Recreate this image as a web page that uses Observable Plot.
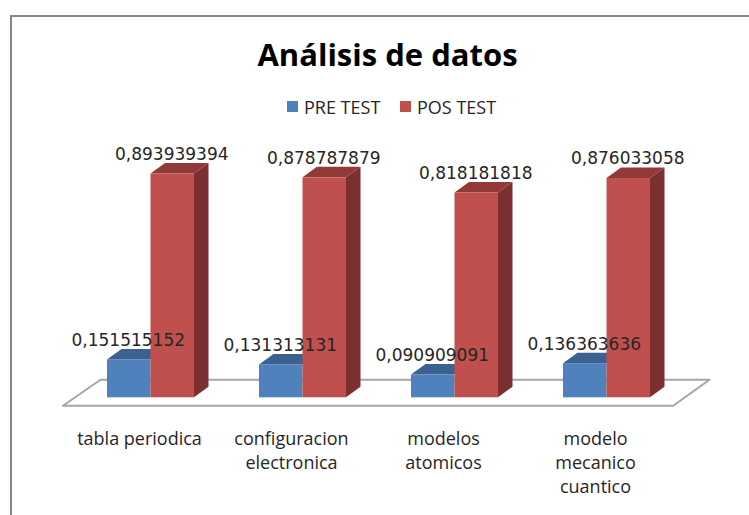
<!DOCTYPE html>
<html>
<head>
<meta charset="utf-8">
<script src="https://cdn.jsdelivr.net/npm/d3@7"></script>
<script src="https://cdn.jsdelivr.net/npm/@observablehq/plot@0.6"></script>
<style>
  html, body { margin: 0; padding: 0; background: #fff; overflow: hidden; width: 749px; height: 515px; }
  #frame { position: absolute; left: 10px; top: 15px; right: 0; bottom: 0; border-left: 2px solid #868686; border-top: 2px solid #868686; pointer-events: none; }
  #head { position: relative; width: 749px; height: 120px; font-family: "Open Sans", sans-serif; }
  #title { position: absolute; left: 257px; top: 31px; width: 261px; text-align: center; white-space: nowrap; font-size: 31px; line-height: 46px; font-weight: 700; color: #000; }
  .key { position: absolute; top: 97px; height: 20px; line-height: 20px; font-size: 18px; color: #262626; white-space: nowrap; padding-left: 17px; }
  .key i { position: absolute; left: 0; top: 4px; width: 11px; height: 11px; }
  svg { display: block; }
</style>
</head>
<body>
<div id="frame"></div>
<div id="head">
  <div id="title">Análisis de datos</div>
  <div class="key" style="left:287px"><i style="background:#4f81bd"></i>PRE TEST</div>
  <div class="key" style="left:400px"><i style="background:#c0504d"></i>POS TEST</div>
</div>
<div id="chart"></div>
<script>
const categories = ["tabla periodica", "configuracion\nelectronica", "modelos\natomicos", "modelo\nmecanico\ncuantico"];
const preTest = [0.151515152, 0.131313131, 0.090909091, 0.136363636];
const posTest = [0.893939394, 0.878787879, 0.818181818, 0.876033058];

// Projection of the pseudo-3D scene, in scale units
const pxX = 152, pxY = 250.3;
const barW = 43.5 / pxX, depthX = 14.5 / pxX, depthY = 10.5 / pxY;
const floorFront = -8 / pxY, floorBack = 18 / pxY;
const floorL = -44.5 / pxX, floorR = 565.7 / pxX, floorShiftL = 37.5 / pxX, floorShiftR = 36.3 / pxX;

const idx = categories.map((_, i) => i);
const fmt = v => v.toFixed(9).replace(".", ",");

const front = (vals, off) => idx.map(i => ({ x1: i + off, x2: i + off + barW, y1: 0, y2: vals[i] }));
const top3d = (vals, off) => idx.flatMap(i => {
  const a = i + off, v = vals[i];
  return [
    { id: i, x: a, y1: v, y2: v },
    { id: i, x: a + depthX, y1: v, y2: v + depthY },
    { id: i, x: a + barW, y1: v, y2: v + depthY },
    { id: i, x: a + barW + depthX, y1: v + depthY, y2: v + depthY }
  ];
});
const side3d = (vals, off) => idx.flatMap(i => {
  const a = i + off + barW, v = vals[i];
  return [
    { id: i, x: a, y1: 0, y2: v },
    { id: i, x: a + depthX, y1: depthY, y2: v + depthY }
  ];
});
const labels = (vals, off) => idx.map(i => ({ x: i + off + barW / 2, y: vals[i] + depthY, t: fmt(vals[i]) }));

const floor = [
  { x: floorL, y: floorFront },
  { x: floorR, y: floorFront },
  { x: floorR + floorShiftR, y: floorBack },
  { x: floorL + floorShiftL, y: floorBack },
  { x: floorL, y: floorFront }
];

const H = 395, base = 397.3 - 120;
const labelStyle = { x: "x", y: "y", text: "t", dx: -1, dy: -9, fontSize: 17, fontFamily: "DejaVu Sans", fill: "#262626", textAnchor: "middle", lineAnchor: "middle" };

const chart = Plot.plot({
  width: 749,
  height: H,
  marginTop: 0, marginLeft: 0, marginRight: 0,
  marginBottom: H - (base - floorFront * pxY),
  x: { domain: [-107 / pxX, (749 - 107) / pxX], range: [0, 749] },
  y: { domain: [floorFront, base / pxY], range: [base - floorFront * pxY, 0], axis: null },
  marks: [
    Plot.line(floor, { x: "x", y: "y", stroke: "#a6a6a6", strokeWidth: 2 }),
    Plot.area(top3d(preTest, 0), { x1: "x", y1: "y1", y2: "y2", z: "id", fill: "#3a618f" }),
    Plot.rect(front(preTest, 0), { x1: "x1", x2: "x2", y1: "y1", y2: "y2", fill: "#4f81bd" }),
    Plot.area(side3d(posTest, barW), { x1: "x", y1: "y1", y2: "y2", z: "id", fill: "#7b302f" }),
    Plot.area(top3d(posTest, barW), { x1: "x", y1: "y1", y2: "y2", z: "id", fill: "#913a38" }),
    Plot.rect(front(posTest, barW), { x1: "x1", x2: "x2", y1: "y1", y2: "y2", fill: "#c0504d" }),
    Plot.text(labels(preTest, 0), labelStyle),
    Plot.text(labels(posTest, barW), labelStyle),
    Plot.axisX(idx, {
      anchor: "bottom", label: null, tickSize: 0, tickPadding: 22,
      tickFormat: i => categories[i], dx: 32, lineHeight: 1.333,
      fontSize: 18, fontFamily: "Open Sans", fill: "#262626",
      textAnchor: "middle", lineAnchor: "top"
    })
  ]
});
document.getElementById("chart").appendChild(chart);
</script>
</body>
</html>
